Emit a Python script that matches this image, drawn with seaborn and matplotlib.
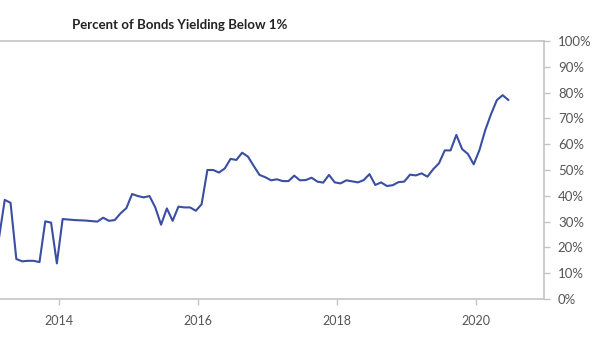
import matplotlib
matplotlib.use("Agg")
import matplotlib.pyplot as plt
import seaborn as sns
import pandas as pd
import numpy as np
from matplotlib.ticker import FuncFormatter

# Monthly observations starting ~Feb 2013
start_year = 2013.135
pct_below_1 = [
    23.6, 38.4, 37.3, 15.5, 14.6, 14.8, 14.8, 14.3, 30.1, 29.6,
    13.8, 31.0, 30.8, 30.6, 30.5, 30.4, 30.2, 30.0, 31.5, 30.3,
    30.6, 33.2, 35.2, 40.7, 39.9, 39.4, 39.9, 35.5, 28.8, 35.1,
    30.3, 35.8, 35.5, 35.5, 34.2, 36.7, 50.0, 50.0, 49.0, 50.6,
    54.3, 53.9, 56.7, 55.2, 51.6, 48.1, 47.2, 46.0, 46.4, 45.7,
    45.7, 47.8, 46.0, 46.1, 47.0, 45.5, 45.1, 48.1, 45.2, 44.8,
    46.0, 45.6, 45.2, 46.1, 48.4, 44.2, 45.2, 43.8, 44.1, 45.3,
    45.5, 48.2, 47.9, 48.7, 47.4, 50.3, 52.6, 57.6, 57.6, 63.6,
    58.1, 56.2, 52.2, 57.8, 65.5, 71.7, 77.1, 79.0, 77.1,
]
dates = [start_year + i / 12 for i in range(len(pct_below_1))]
x_ticks = [2014, 2016, 2018, 2020]
y_ticks = [0, 10, 20, 30, 40, 50, 60, 70, 80, 90, 100]
title = "Percent of Bonds Yielding Below 1%"

df = pd.DataFrame({"date": dates, "pct": pct_below_1})

sns.set_theme(style="white")
plt.rcParams["font.family"] = ["Lato", "DejaVu Sans"]

fig = plt.figure(figsize=(5.99, 3.37), dpi=100)
ax = fig.add_axes([0.0, 38 / 337, 544 / 599, 258 / 337])

sns.lineplot(data=df, x="date", y="pct", ax=ax, color="#3a4ea2", linewidth=1.5)

ax.set_xlim(2013.15, 2020.98)
ax.set_ylim(0, 100)
ax.set_xticks(x_ticks)
ax.set_xticklabels([str(t) for t in x_ticks])
ax.set_yticks(y_ticks)
ax.yaxis.set_major_formatter(FuncFormatter(lambda v, p: f"{int(v)}%"))
ax.yaxis.tick_right()
ax.set_xlabel("")
ax.set_ylabel("")

grey = "#c4c4c4"
ax.spines["left"].set_visible(False)
for side in ["top", "bottom", "right"]:
    ax.spines[side].set_visible(True)
    ax.spines[side].set_color(grey)
    ax.spines[side].set_linewidth(1.2)

ax.tick_params(axis="y", which="both", right=True, left=False, length=4,
               width=1, color=grey, pad=6, labelsize=9.5, labelcolor="#555555")
ax.tick_params(axis="x", which="both", bottom=True, length=4.5, width=1,
               color=grey, pad=7, labelsize=9, labelcolor="#555555")

fig.text(72 / 599, 1 - 25 / 337, title, fontsize=9.5, fontweight="bold",
         color="#222222", ha="left", va="center")

fig.savefig("out.png", dpi=100)
